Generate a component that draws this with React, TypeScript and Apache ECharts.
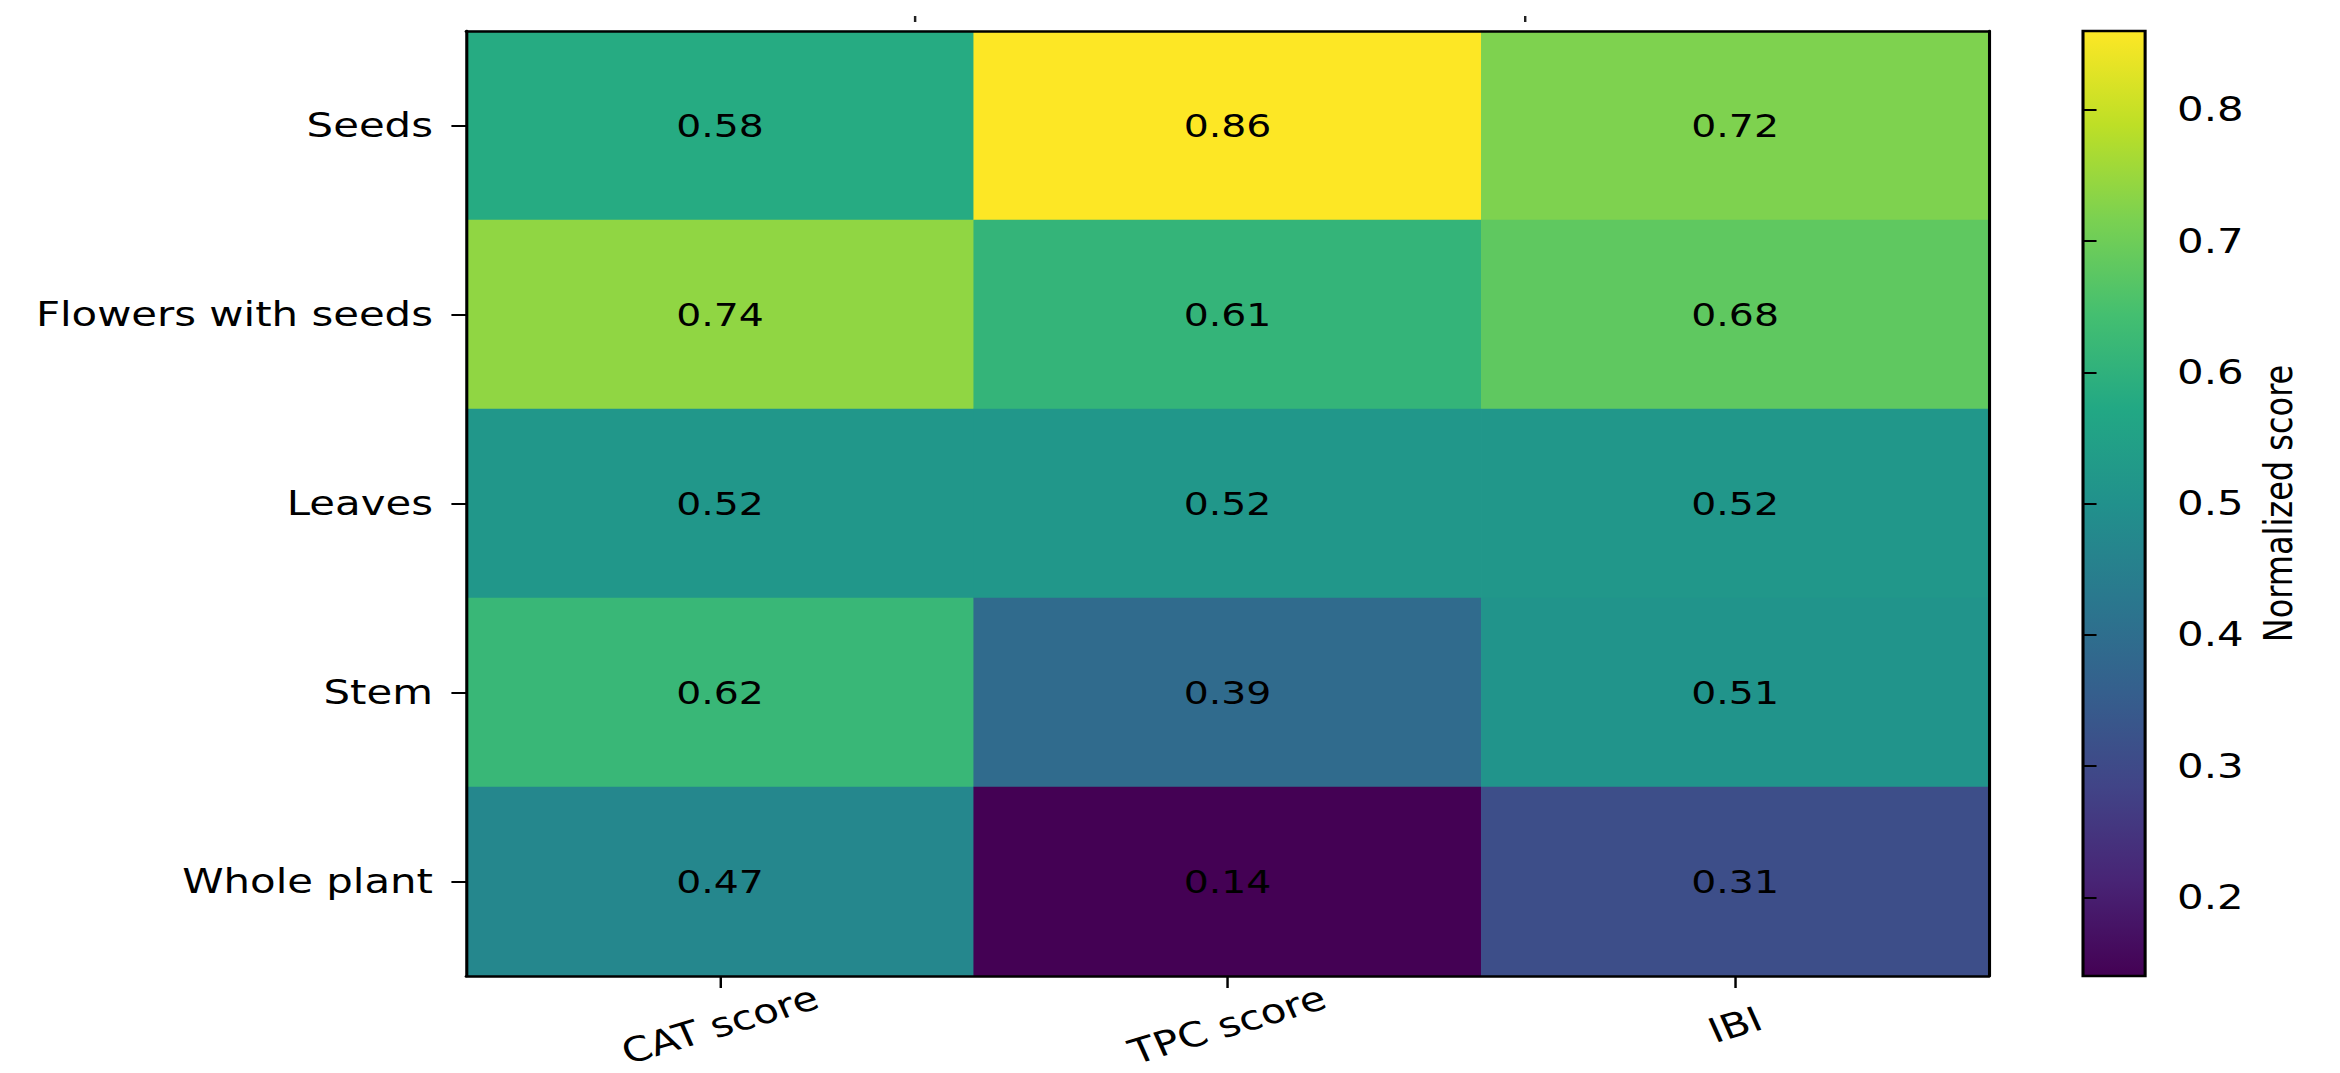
import React, { useEffect, useRef } from "react";
import * as echarts from "echarts";

// ---- data ----
const columns = ["CAT score", "TPC score", "IBI"];
const rows = ["Seeds", "Flowers with seeds", "Leaves", "Stem", "Whole plant"];
const catScore = [0.58, 0.74, 0.52, 0.62, 0.47];
const tpcScore = [0.86, 0.61, 0.52, 0.39, 0.14];
const ibiScore = [0.72, 0.68, 0.52, 0.51, 0.31];
const colorbarTicks = [0.2, 0.3, 0.4, 0.5, 0.6, 0.7, 0.8];
const colorbarMin = 0.14;
const colorbarMax = 0.86;
const colorbarTitle = "Normalized score";

const viridis = [
  "#440154", "#482475", "#414487", "#355f8d", "#2a788e",
  "#21918c", "#22a884", "#44bf70", "#7ad151", "#bddf26", "#fde725",
];

const STRETCH = 1.23;
const W = Math.round(2340 / STRETCH);
const H = 1073;
const FONT = "DejaVu Sans";

export default function App() {
  const ref = useRef<HTMLDivElement>(null);
  useEffect(() => {
    if (!ref.current) return;
    const chart = echarts.init(ref.current, null, { renderer: "svg" });
    const columnsData = [catScore, tpcScore, ibiScore];
    const heat: any[] = [];
    columnsData.forEach((col, ci) =>
      col.forEach((v, ri) => heat.push([ci, ri, v]))
    );
    const stops = viridis
      .slice()
      .reverse()
      .map((c, i, a) => ({ offset: i / (a.length - 1), color: c }));

    const top = 31;
    const bottom = 976;
    const plotLeft = 379;
    const plotRight = 1617;
    const cbLeft = 1693.5;
    const cbRight = 1744;

    chart.setOption({
      animation: false,
      backgroundColor: "#ffffff",
      grid: [
        {
          left: plotLeft, top, width: plotRight - plotLeft, height: bottom - top,
          containLabel: false, outerBoundsMode: "none",
        },
        {
          left: cbLeft, top, width: cbRight - cbLeft, height: bottom - top,
          containLabel: false, outerBoundsMode: "none",
        },
      ],
      xAxis: [
        {
          type: "category",
          gridIndex: 0,
          data: columns,
          position: "bottom",
          z: 10,
          axisLine: { show: true, lineStyle: { color: "#000", width: 2.5 } },
          axisTick: { show: true, alignWithLabel: true, length: 12, lineStyle: { color: "#000", width: 2 } },
          axisLabel: {
            rotate: 20,
            align: "center",
            verticalAlign: "middle",
            margin: 49,
            fontFamily: FONT,
            fontSize: 34,
            color: "#000",
          },
          splitLine: { show: false },
        },
        {
          type: "category",
          gridIndex: 0,
          data: columns,
          position: "top",
          z: 10,
          axisLine: { show: true, lineStyle: { color: "#000", width: 2.5 } },
          axisTick: { show: false },
          axisLabel: { show: false },
        },
        { type: "value", gridIndex: 1, min: 0, max: 1, show: false },
      ],
      yAxis: [
        {
          type: "category",
          gridIndex: 0,
          data: rows,
          inverse: true,
          position: "left",
          z: 10,
          axisLine: { show: true, lineStyle: { color: "#000", width: 2.5 } },
          axisTick: { show: true, alignWithLabel: true, length: 12, lineStyle: { color: "#000", width: 2 } },
          axisLabel: { margin: 27, fontFamily: FONT, fontSize: 34, color: "#000" },
          splitLine: { show: false },
        },
        {
          type: "category",
          gridIndex: 0,
          data: rows,
          inverse: true,
          position: "right",
          z: 10,
          axisLine: { show: true, lineStyle: { color: "#000", width: 2.5 } },
          axisTick: { show: false },
          axisLabel: { show: false },
        },
        {
          type: "value",
          gridIndex: 1,
          min: colorbarMin,
          max: colorbarMax,
          position: "right",
          z: 10,
          name: colorbarTitle,
          nameLocation: "middle",
          nameRotate: 90,
          nameGap: 92,
          nameTextStyle: { fontFamily: FONT, fontSize: 32, color: "#000" },
          axisLine: { show: false },
          axisTick: {
            show: true,
            length: 11,
            customValues: colorbarTicks,
            lineStyle: { color: "#000", width: 2 },
          },
          axisLabel: {
            customValues: colorbarTicks,
            margin: 26,
            fontFamily: FONT,
            fontSize: 34,
            color: "#000",
            formatter: (v: number) => v.toFixed(1),
          },
          splitLine: { show: false },
        },
      ],
      visualMap: {
        show: false,
        type: "continuous",
        min: colorbarMin,
        max: colorbarMax,
        seriesIndex: 0,
        dimension: 2,
        inRange: { color: viridis },
      },
      series: [
        {
          type: "heatmap",
          xAxisIndex: 0,
          yAxisIndex: 0,
          data: heat,
          label: {
            show: true,
            fontFamily: FONT,
            fontSize: 32,
            color: "#000",
            formatter: (p: any) => p.value[2].toFixed(2),
          },
          emphasis: { disabled: true },
        },
        {
          type: "custom",
          xAxisIndex: 2,
          yAxisIndex: 2,
          clip: false,
          data: [[colorbarMin, colorbarMax]],
          renderItem: (_params: any, api: any) => {
            const tl = api.coord([0, api.value(1)]);
            const br = api.coord([1, api.value(0)]);
            return {
              type: "rect",
              shape: { x: tl[0], y: tl[1], width: br[0] - tl[0], height: br[1] - tl[1] },
              style: {
                fill: new echarts.graphic.LinearGradient(0, 0, 0, 1, stops),
                stroke: "#000",
                lineWidth: 2.5,
              },
            };
          },
        },
      ],
      graphic: [
        { type: "rect", left: 743, top: 16, shape: { width: 2, height: 6 }, style: { fill: "#222" } },
        { type: "rect", left: 1239, top: 16, shape: { width: 2, height: 6 }, style: { fill: "#222" } },
      ],
    });
    return () => chart.dispose();
  }, []);

  return (
    <div
      style={{
        position: "fixed",
        left: 0,
        top: 0,
        width: 2340,
        height: H,
        overflow: "hidden",
        background: "#fff",
      }}
    >
      <div
        ref={ref}
        style={{
          width: W,
          height: H,
          transform: `scaleX(${STRETCH})`,
          transformOrigin: "0 0",
        }}
      />
    </div>
  );
}
